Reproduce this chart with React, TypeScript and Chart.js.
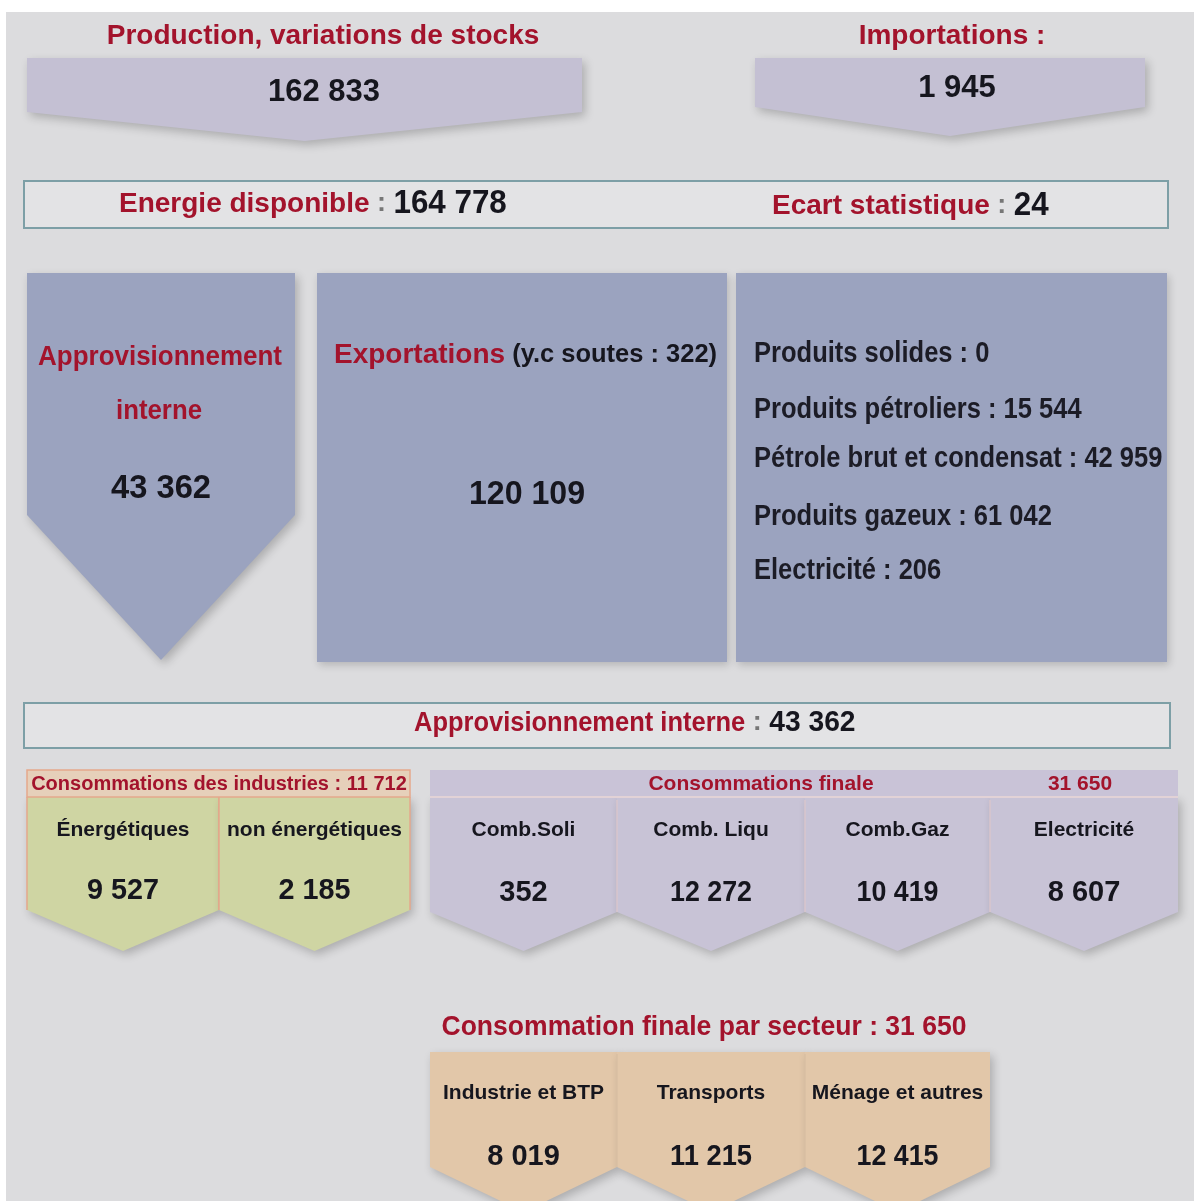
import React, { useEffect, useRef } from "react";
import { Chart, registerables } from "chart.js";

Chart.register(...registerables);

// ---------- data ----------
const topTitles = ["Production, variations de stocks", "Importations :"];
const topValues = [162833, 1945];
const availableLabels = ["Energie disponible", "Ecart statistique"];
const availableValues = [164778, 24];
const useLabels = ["Approvisionnement", "interne", "Exportations"];
const useValues = [43362, 120109];
const bunkersValue = 322;
const exportProducts = ["Produits solides", "Produits pétroliers", "Pétrole brut et condensat", "Produits gazeux", "Electricité"];
const exportValues = [0, 15544, 42959, 61042, 206];
const internalSupplyLabel = "Approvisionnement interne";
const internalSupplyValue = 43362;
const industryTitle = "Consommations des industries";
const industryTotal = 11712;
const industryLabels = ["Énergétiques", "non énergétiques"];
const industryValues = [9527, 2185];
const finalTitle = "Consommations finale";
const finalTotal = 31650;
const finalLabels = ["Comb.Soli", "Comb. Liqu", "Comb.Gaz", "Electricité"];
const finalValues = [352, 12272, 10419, 8607];
const sectorTitle = "Consommation finale par secteur";
const sectorLabels = ["Industrie et BTP", "Transports", "Ménage et autres"];
const sectorValues = [8019, 11215, 12415];

// ---------- layout (diagram coordinates) ----------
const W = 1194;
const H = 1201;
const RED = "#a3132c";
const INK = "#16161e";
const FONT = "'Liberation Sans', Arial, sans-serif";

const fmt = (n: number) => String(n).replace(/\B(?=(\d{3})+(?!\d))/g, " ");

type Seg = { s: string; size: number; color: string; sq?: number };

function diagramPlugin() {
  return {
    id: "diagram",
    beforeDraw(chart: any) {
      const ctx: CanvasRenderingContext2D = chart.ctx;
      const xs = chart.scales.x;
      const ys = chart.scales.y;
      const X = (v: number) => xs.getPixelForValue(v);
      const Y = (v: number) => ys.getPixelForValue(v);

      const text = (s: string, x: number, y: number, size: number, color: string, align: CanvasTextAlign = "center", maxW?: number) => {
        ctx.save();
        ctx.font = `bold ${size}px ${FONT}`;
        ctx.fillStyle = color;
        ctx.textAlign = align;
        ctx.textBaseline = "middle";
        if (maxW) ctx.fillText(s, X(x), Y(y), maxW);
        else ctx.fillText(s, X(x), Y(y));
        ctx.restore();
      };
      const runs = (segs: Seg[], x: number, y: number, align: "center" | "left") => {
        ctx.save();
        ctx.textBaseline = "middle";
        ctx.textAlign = "left";
        let total = 0;
        const widths = segs.map((g) => {
          ctx.font = `bold ${g.size}px ${FONT}`;
          const w = ctx.measureText(g.s).width * (g.sq ?? 1);
          total += w;
          return w;
        });
        let px = align === "center" ? X(x) - total / 2 : X(x);
        segs.forEach((g, i) => {
          ctx.font = `bold ${g.size}px ${FONT}`;
          ctx.fillStyle = g.color;
          ctx.fillText(g.s, px, Y(y), widths[i]);
          px += widths[i];
        });
        ctx.restore();
      };
      const arrow = (x0: number, x1: number, top: number, shoulder: number, tip: number, fill: string, shadow = true, stroke?: string) => {
        ctx.save();
        if (shadow) {
          ctx.shadowColor = "rgba(0,0,0,0.22)";
          ctx.shadowBlur = 10;
          ctx.shadowOffsetX = 3;
          ctx.shadowOffsetY = 4;
        }
        ctx.beginPath();
        ctx.moveTo(X(x0), Y(top));
        ctx.lineTo(X(x1), Y(top));
        ctx.lineTo(X(x1), Y(shoulder));
        ctx.lineTo(X((x0 + x1) / 2), Y(tip));
        ctx.lineTo(X(x0), Y(shoulder));
        ctx.closePath();
        ctx.fillStyle = fill;
        ctx.fill();
        ctx.restore();
        if (stroke) {
          ctx.save();
          ctx.strokeStyle = stroke;
          ctx.lineWidth = 1.5;
          ctx.beginPath();
          ctx.moveTo(X(x0), Y(top));
          ctx.lineTo(X(x0), Y(shoulder));
          ctx.moveTo(X(x1), Y(top));
          ctx.lineTo(X(x1), Y(shoulder));
          ctx.stroke();
          ctx.restore();
        }
      };
      const rect = (x0: number, y0: number, x1: number, y1: number, fill: string, stroke?: string, lw = 2, shadow = false) => {
        ctx.save();
        if (shadow) {
          ctx.shadowColor = "rgba(0,0,0,0.18)";
          ctx.shadowBlur = 8;
          ctx.shadowOffsetX = 2;
          ctx.shadowOffsetY = 3;
        }
        ctx.fillStyle = fill;
        ctx.fillRect(X(x0), Y(y0), X(x1) - X(x0), Y(y1) - Y(y0));
        ctx.restore();
        if (stroke) {
          ctx.save();
          ctx.strokeStyle = stroke;
          ctx.lineWidth = lw;
          ctx.strokeRect(X(x0), Y(y0), X(x1) - X(x0), Y(y1) - Y(y0));
          ctx.restore();
        }
      };

      // page
      ctx.save();
      ctx.fillStyle = "#ffffff";
      ctx.fillRect(0, 0, chart.width, chart.height);
      ctx.restore();
      rect(6, 12, W, H, "#dcdcde");

      // ---- top arrows
      arrow(27, 582, 58, 112, 141, "#c4c0d3");
      arrow(755, 1145, 58, 107, 136, "#c4c0d3");
      text(topTitles[0], 323, 36, 28, RED);
      text(topTitles[1], 952, 36, 28, RED);
      text(fmt(topValues[0]), 324, 92, 31, INK, "center", 112);
      text(fmt(topValues[1]), 957, 88, 31, INK, "center", 78);

      // ---- energie disponible
      rect(24, 181, 1168, 228, "#e3e3e5", "#7d9fa6", 2);
      runs([
        { s: availableLabels[0], size: 28, color: RED },
        { s: " : ", size: 27, color: "#777" },
        { s: fmt(availableValues[0]), size: 33, color: INK, sq: 0.95 },
      ], 119, 204, "left");
      runs([
        { s: availableLabels[1], size: 28, color: RED },
        { s: " : ", size: 27, color: "#777" },
        { s: fmt(availableValues[1]), size: 33, color: INK, sq: 0.95 },
      ], 772, 206, "left");

      // ---- middle blocks
      const BLUE = "#9ba3bf";
      arrow(27, 295, 273, 515, 660, BLUE);
      rect(317, 273, 727, 662, BLUE, undefined, 0, true);
      rect(736, 273, 1167, 662, BLUE, undefined, 0, true);
      text(useLabels[0], 160, 357, 28, RED, "center", 244);
      text(useLabels[1], 159, 412, 27, RED, "center", 86);
      text(fmt(useValues[0]), 161, 489, 33, INK, "center", 100);
      runs([
        { s: useLabels[2], size: 28, color: RED },
        { s: " (y.c soutes : " + bunkersValue + ")", size: 26, color: INK, sq: 0.98 },
      ], 334, 355, "left");
      text(fmt(useValues[1]), 527, 495, 33, INK, "center", 116);
      const listY = [354, 410, 459, 517, 571];
      exportProducts.forEach((p, i) => {
        const s = `${p} : ${fmt(exportValues[i])}`;
        ctx.save();
        ctx.font = `bold 29px ${FONT}`;
        const w = ctx.measureText(s).width * 0.88;
        ctx.restore();
        text(s, 754, listY[i], 29, "#1c1c26", "left", w);
      });

      // ---- approvisionnement interne bar
      rect(24, 703, 1170, 748, "#e3e3e5", "#7d9fa6", 2);
      runs([
        { s: internalSupplyLabel, size: 28, color: RED, sq: 0.91 },
        { s: " : ", size: 27, color: "#777" },
        { s: fmt(internalSupplyValue), size: 30, color: INK, sq: 0.94 },
      ], 414, 723, "left");

      // ---- industries
      const GREEN = "#cfd5a3";
      const SALMON = "#e5a88c";
      const indX = [27, 219, 410];
      for (let i = 0; i < industryLabels.length; i++) {
        arrow(indX[i], indX[i + 1], 797, 910, 951, GREEN, true, SALMON);
      }
      rect(27, 770, 410, 797, "#e6d0ba", SALMON, 1.5);
      text(`${industryTitle} : ${fmt(industryTotal)}`, 219, 784, 20, RED, "center", 376);
      industryLabels.forEach((l, i) => {
        const cx = (indX[i] + indX[i + 1]) / 2;
        text(l, cx, 830, 21, INK, "center", 176);
        text(fmt(industryValues[i]), cx, 891, 29, INK, "center", 72);
      });

      // ---- final consumption
      const LAV = "#c8c3d6";
      const finX = [430, 617, 805, 990, 1178];
      for (let i = 0; i < finalLabels.length; i++) {
        arrow(finX[i], finX[i + 1], 797, 912, 951, LAV, true);
      }
      ctx.save();
      ctx.strokeStyle = "#d8c6cc";
      ctx.lineWidth = 1.5;
      for (let i = 1; i < finalLabels.length; i++) {
        ctx.beginPath();
        ctx.moveTo(X(finX[i]), Y(800));
        ctx.lineTo(X(finX[i]), Y(912));
        ctx.stroke();
      }
      ctx.restore();
      rect(430, 770, 1178, 797, "#c9c3d7");
      ctx.save();
      ctx.strokeStyle = "#e2d2d6";
      ctx.lineWidth = 2;
      ctx.beginPath();
      ctx.moveTo(X(430), Y(797));
      ctx.lineTo(X(1178), Y(797));
      ctx.stroke();
      ctx.restore();
      text(finalTitle, 761, 784, 21, RED);
      text(fmt(finalTotal), 1080, 784, 21, RED);
      finalLabels.forEach((l, i) => {
        const cx = (finX[i] + finX[i + 1]) / 2;
        text(l, cx, 830, 21, INK);
        text(fmt(finalValues[i]), cx, 893, 29, INK, "center", 82);
      });

      // ---- sectors
      text(`${sectorTitle} : ${fmt(finalTotal)}`, 704, 1027, 28, RED, "center", 525);
      const TAN = "#e2c7a9";
      const secX = [430, 617, 805, 990];
      for (let i = 0; i < sectorLabels.length; i++) {
        arrow(secX[i], secX[i + 1], 1052, 1167, 1212, TAN, true);
      }
      ctx.save();
      ctx.strokeStyle = "#d9bfa3";
      ctx.lineWidth = 1.5;
      for (let i = 1; i < sectorLabels.length; i++) {
        ctx.beginPath();
        ctx.moveTo(X(secX[i]), Y(1054));
        ctx.lineTo(X(secX[i]), Y(1167));
        ctx.stroke();
      }
      ctx.restore();
      sectorLabels.forEach((l, i) => {
        const cx = (secX[i] + secX[i + 1]) / 2;
        text(l, cx, 1093, 21, INK, "center", 174);
        text(fmt(sectorValues[i]), cx, 1157, 29, INK, "center", 82);
      });
    },
  };
}

export default function App() {
  const ref = useRef<HTMLCanvasElement | null>(null);
  useEffect(() => {
    document.body.style.margin = "0";
    const canvas = ref.current;
    if (!canvas) return;
    const chart = new Chart(canvas, {
      type: "scatter",
      data: { datasets: [{ data: [], pointRadius: 0 }] },
      options: {
        animation: false,
        responsive: false,
        maintainAspectRatio: false,
        devicePixelRatio: 1,
        layout: { padding: 0 },
        plugins: { legend: { display: false }, tooltip: { enabled: false } },
        scales: {
          x: { type: "linear", min: 0, max: W, display: false },
          y: { type: "linear", min: 0, max: H, reverse: true, display: false },
        },
      },
      plugins: [diagramPlugin()],
    });
    return () => chart.destroy();
  }, []);
  return (
    <div style={{ width: W, height: H }}>
      <canvas ref={ref} width={W} height={H} style={{ display: "block", width: W, height: H }} />
    </div>
  );
}
